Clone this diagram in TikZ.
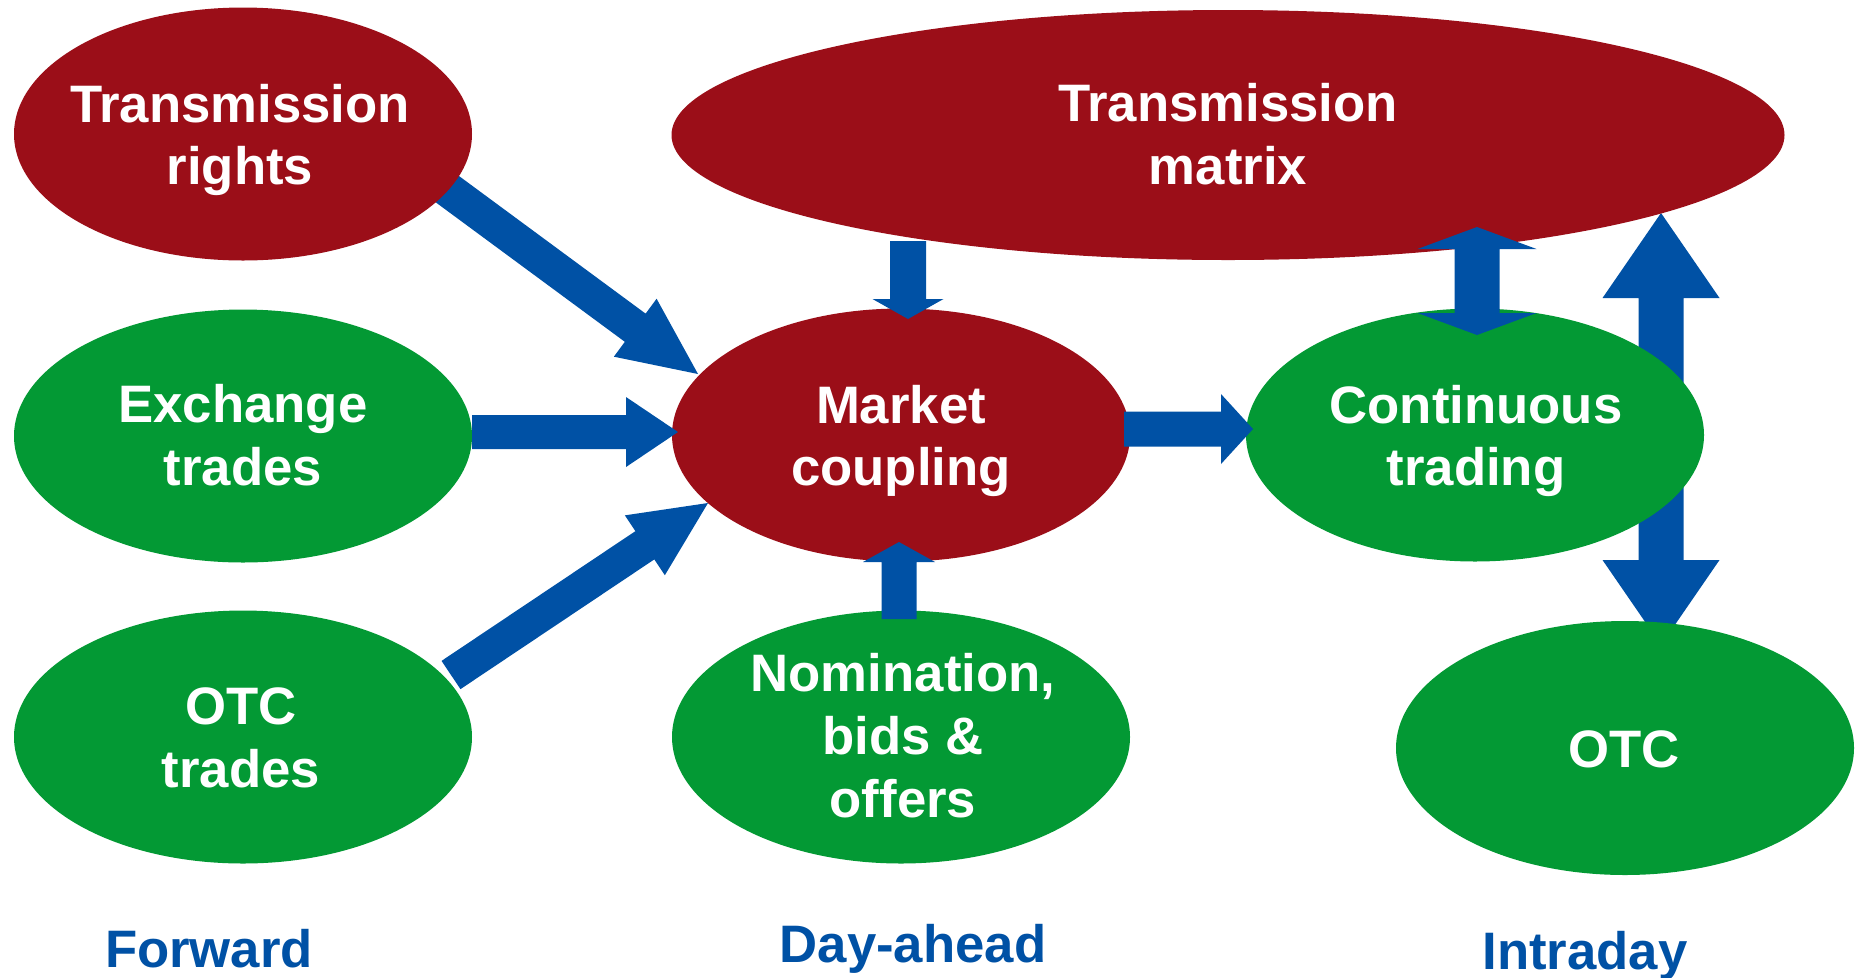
\documentclass[tikz,border=0pt]{standalone}
\usepackage{fontspec}
\setmainfont{Liberation Sans}
\usetikzlibrary{shapes.geometric,calc}
\definecolor{dred}{RGB}{155,14,24}
\definecolor{dgreen}{RGB}{3,153,52}
\definecolor{dblue}{RGB}{0,81,165}
% single block arrow: #1 tail, #2 tip, #3 half shaft, #4 half head, #5 head length
\newcommand{\sarrow}[5]{%
  \path ($(#2)!#5!(#1)$) coordinate (hh);
  \fill[arr] ($(#1)!#3!90:(#2)$) -- ($(hh)!#3!90:(#2)$) -- ($(hh)!#4!90:(#2)$) -- (#2)
    -- ($(hh)!#4!-90:(#2)$) -- ($(hh)!#3!-90:(#2)$) -- ($(#1)!#3!-90:(#2)$) -- cycle;}
% double block arrow between #1 and #2
\newcommand{\darrow}[5]{%
  \path ($(#2)!#5!(#1)$) coordinate (ha) ($(#1)!#5!(#2)$) coordinate (hb);
  \fill[arr] (#1) -- ($(hb)!#4!90:(#2)$) -- ($(hb)!#3!90:(#2)$) -- ($(ha)!#3!90:(#2)$)
    -- ($(ha)!#4!90:(#2)$) -- (#2) -- ($(ha)!#4!-90:(#2)$) -- ($(ha)!#3!-90:(#2)$)
    -- ($(hb)!#3!-90:(#2)$) -- ($(hb)!#4!-90:(#2)$) -- cycle;}
\begin{document}
\begin{tikzpicture}[x=0.1mm,y=-0.1mm,
  ell/.style={ellipse, inner sep=0pt, minimum width=45.8mm, minimum height=25.3mm},
  redell/.style={ell, fill=dred},
  greenell/.style={ell, fill=dgreen},
  lbl/.style={text=white, font=\bfseries\fontsize{15}{17.9}\selectfont, align=center, inner sep=0pt},
  phase/.style={text=dblue, font=\bfseries\fontsize{15}{18}\selectfont, inner sep=0pt, anchor=base},
  arr/.style={fill=dblue}]
\useasboundingbox (0,0) rectangle (1866,977);

% arrow end points
\coordinate (a1s) at (420,169);  \coordinate (a1t) at (698,374);
\coordinate (a8s) at (1661,213); \coordinate (a8t) at (1661,645);

% arrows lying behind the ellipses
\sarrow{a1s}{a1t}{1.75mm}{3.6mm}{7.8mm}
\darrow{a8s}{a8t}{2.25mm}{5.85mm}{8.5mm}

% ellipses
\node[redell] (tr) at (243,134) {};
\node[greenell] (ex) at (243,436) {};
\node[greenell] (otcf) at (243,737) {};
\node[redell] (mc) at (901,435) {};
\node[greenell] (nom) at (901,737) {};
\node[redell, minimum width=111.3mm, minimum height=25.0mm] (tm) at (1228,135) {};
\node[greenell] (ct) at (1475,435) {};
\node[greenell, minimum height=25.4mm] (otci) at (1625,748) {};

% remaining arrows
\coordinate (a2s) at (472,432);  \coordinate (a2t) at (678,432);
\coordinate (a3s) at (451,675);  \coordinate (a3t) at (708,503);
\coordinate (a4s) at (908,241);  \coordinate (a4t) at (908,319);
\coordinate (a5s) at (899,619);  \coordinate (a5t) at (899,542);
\coordinate (a6s) at (1124,429); \coordinate (a6t) at (1253,429);
\coordinate (a7s) at (1477,227); \coordinate (a7t) at (1477,335);
\sarrow{a2s}{a2t}{1.7mm}{3.5mm}{5.2mm}
\sarrow{a3s}{a3t}{1.7mm}{3.6mm}{7.6mm}
\sarrow{a4s}{a4t}{1.8mm}{3.55mm}{2.0mm}
\sarrow{a5s}{a5t}{1.75mm}{3.6mm}{2.0mm}
\sarrow{a6s}{a6t}{1.75mm}{3.5mm}{3.2mm}
\darrow{a7s}{a7t}{2.25mm}{5.95mm}{2.2mm}

% texts
\node[lbl] (trt) at (240,140) {Transmission\\rights};
\node[lbl] (ext) at (243,435) {Exchange\\trades};
\node[lbl] (otcft) at (241,738) {OTC\\trades};
\node[lbl] (mct) at (901,441) {Market\\coupling};
\node[lbl] (nomt) at (903,736) {Nomination,\\bids \&\\offers};
\node[lbl] (tmt) at (1228,134) {Transmission\\matrix};
\node[lbl] (ctt) at (1476,441) {Continuous\\trading};
\node[lbl] (otcit) at (1624,749) {OTC};

\node[phase] (fw) at (209,967) {Forward};
\node[phase] (da) at (913,962) {Day-ahead};
\node[phase] (id) at (1585,969) {Intraday};
\end{tikzpicture}
\end{document}
